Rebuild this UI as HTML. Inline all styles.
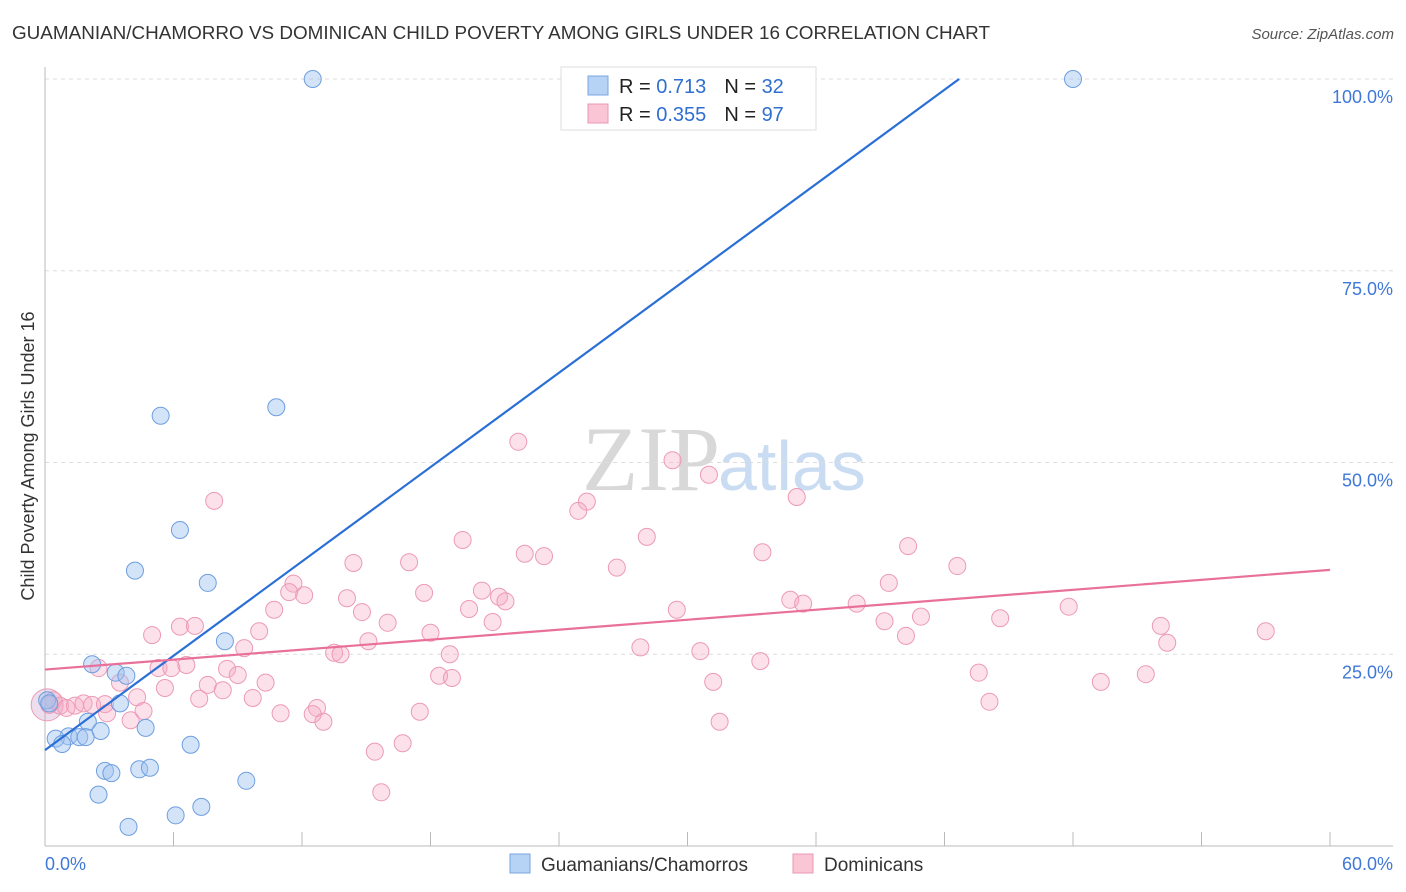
<!DOCTYPE html>
<html><head><meta charset="utf-8"><style>
body{margin:0;background:#fff;font-family:"Liberation Sans",sans-serif;}
svg{display:block}
</style></head><body>
<svg id="chart" width="1406" height="892" xmlns="http://www.w3.org/2000/svg">
<text x="12" y="39" font-size="18" fill="#333" textLength="978" lengthAdjust="spacingAndGlyphs">GUAMANIAN/CHAMORRO VS DOMINICAN CHILD POVERTY AMONG GIRLS UNDER 16 CORRELATION CHART</text>
<text x="1394" y="39" font-size="15" fill="#555" font-style="italic" text-anchor="end">Source: ZipAtlas.com</text>
<text x="720" y="490" font-size="92" fill="#d8d8d8" text-anchor="end" font-family="Liberation Serif,serif">ZIP</text>
<text x="718" y="490" font-size="70" fill="#c9dcf2">atlas</text>
<text transform="translate(34,456) rotate(-90)" font-size="18" fill="#333" text-anchor="middle">Child Poverty Among Girls Under 16</text>
<g id="grid"></g><g id="axes"></g><g id="pts"></g><g id="lines"></g>
<g>
<rect x="561" y="67" width="255" height="63" fill="#fff" stroke="#ddd"/>
<rect x="588" y="76" width="20" height="19" fill="#b6d2f5" stroke="#7aa6e0"/>
<rect x="588" y="104" width="20" height="19" fill="#fac6d6" stroke="#e897b3"/>
<text x="619" y="93" font-size="20" fill="#222">R = <tspan fill="#2f6fd0"> 0.713</tspan><tspan dx="18">N = </tspan><tspan fill="#2f6fd0">32</tspan></text>
<text x="619" y="121" font-size="20" fill="#222">R = <tspan fill="#2f6fd0">0.355</tspan><tspan dx="18">N = </tspan><tspan fill="#2f6fd0">97</tspan></text>
</g>
<g>
<rect x="510" y="854" width="20" height="19" fill="#b6d2f5" stroke="#7aa6e0"/>
<text x="541" y="871" font-size="19" fill="#333">Guamanians/Chamorros</text>
<rect x="793" y="854" width="20" height="19" fill="#fac6d6" stroke="#e897b3"/>
<text x="824" y="871" font-size="19" fill="#333">Dominicans</text>
</g>
</svg>
<script>
const blueX=[12.5,48.0,5.4,10.8,6.3,4.2,7.6,8.4,2.2,3.3,3.8,0.1,3.5,2.0,4.7,2.6,1.1,0.5,1.6,1.9,0.8,6.8,2.8,3.1,4.4,4.9,2.5,9.4,3.9,6.1,7.3,0.2];
const blueY=[100,100,56.1,57.2,41.2,35.9,34.3,26.7,23.7,22.6,22.2,19.0,18.6,16.2,15.4,15.0,14.3,14.0,14.2,14.2,13.3,13.2,9.8,9.5,10.0,10.2,6.7,8.5,2.5,4.0,5.1,18.6];
const pinkX=[22.1,29.3,31.0,7.9,25.3,24.9,35.1,19.5,28.1,22.4,23.3,14.4,17.0,33.5,40.3,42.6,26.7,39.4,11.6,11.4,12.1,17.7,20.4,21.2,21.5,14.1,14.8,19.8,29.5,34.8,35.4,37.9,10.7,40.9,44.6,47.8,5.0,6.3,7.0,10.0,16.0,18.0,20.9,39.2,40.2,52.1,52.4,57.0,15.1,9.3,27.8,13.5,13.8,18.9,30.6,5.3,5.9,6.6,8.5,9.0,10.3,18.4,19.0,33.4,43.6,51.4,49.3,31.2,2.5,3.5,5.6,7.6,8.3,0.4,0.7,1.0,1.4,1.8,2.2,2.8,4.3,7.2,9.7,2.9,4.6,4.0,11.0,12.7,12.5,13.0,17.5,44.1,15.4,16.7,31.5,15.7,0.2];
const pinkY=[52.7,50.3,48.4,45.0,44.9,43.7,45.5,39.9,40.3,38.1,37.8,36.9,37.0,38.3,39.1,36.5,36.3,34.3,34.2,33.1,32.7,33.0,33.3,32.5,31.9,32.3,30.5,30.9,30.8,32.1,31.6,31.6,30.8,29.9,29.7,31.2,27.5,28.6,28.7,28.0,29.1,27.8,29.2,29.3,27.4,28.7,26.5,28.0,26.7,25.8,25.9,25.2,25.0,25.0,25.4,23.2,23.2,23.6,23.1,22.3,21.3,22.2,21.9,24.1,22.6,22.4,21.4,21.4,23.2,21.3,20.6,21.0,20.3,19.0,18.3,18.0,18.3,18.6,18.4,18.5,19.4,19.2,19.3,17.3,17.6,16.4,17.3,18.0,17.2,16.2,17.5,18.8,12.3,13.4,16.2,7.0,18.4];
const bigX=[0.1];
const bigY=[18.4];
const blueLine=[12.5,2.05];
const pinkLine=[23.0,0.2167];
const yTicks=[25,50,75,100];
const yTickLabels=["25.0%","50.0%","75.0%","100.0%"];
const xTickVals=[0,6,12,18,24,30,36,42,48,54,60];
const xLabels=["0.0%","60.0%"];
const NS="http://www.w3.org/2000/svg";
const L=45,R=1330,T=79,B=846;
const sx=v=>L+(v/60)*(R-L);
const sy=v=>B-(v/100)*(B-T);
function mk(tag,attrs,parent){const e=document.createElementNS(NS,tag);for(const k in attrs)e.setAttribute(k,attrs[k]);document.getElementById(parent).appendChild(e);return e;}
yTicks.forEach((v,i)=>{
 const g=mk('line',{x1:45,x2:1393,y1:sy(v),y2:sy(v),stroke:'#ddd','stroke-dasharray':'4,4'},'grid');
 
 
 const t=mk('text',{x:1393,y:sy(v)+24,'font-size':18,fill:'#3f78d8','text-anchor':'end'},'axes');
 t.textContent=yTickLabels[i];
 
 
});
let a=mk('line',{x1:45,x2:45,y1:67,y2:846,stroke:'#bbb'},'axes');


a=mk('line',{x1:45,x2:1393,y1:846,y2:846,stroke:'#bbb'},'axes');


xTickVals.forEach(v=>{
 const t=mk('line',{x1:sx(v),x2:sx(v),y1:832,y2:846,stroke:'#bbb'},'axes');
 
 
});
[[0,xLabels[0],'start',45],[60,xLabels[1],'end',1393]].forEach(d=>{
 const t=mk('text',{x:d[3],y:870,'font-size':18,fill:'#3f78d8','text-anchor':d[2]},'axes');
 t.textContent=d[1];
 
 
});
bigX.forEach((x,i)=>{
 const c=mk('circle',{cx:sx(x),cy:sy(bigY[i]),r:16,fill:'rgba(200,160,200,0.35)',stroke:'#ec9ab6','stroke-width':1},'pts');
 
 
});
pinkX.forEach((x,i)=>{
 const c=mk('circle',{cx:sx(x),cy:sy(pinkY[i]),r:8.5,fill:'rgba(245,170,195,0.35)',stroke:'#ec9ab6','stroke-width':1},'pts');
 
 
});
blueX.forEach((x,i)=>{
 const c=mk('circle',{cx:sx(x),cy:sy(blueY[i]),r:8.5,fill:'rgba(160,195,240,0.45)',stroke:'#6e9ee0','stroke-width':1},'pts');
 
 
});
const bx2=(100-blueLine[0])/blueLine[1];
let ln=mk('line',{x1:sx(0),y1:sy(blueLine[0]),x2:sx(bx2),y2:sy(100),stroke:'#2a6fd6','stroke-width':2.2},'lines');


ln=mk('line',{x1:sx(0),y1:sy(pinkLine[0]),x2:sx(60),y2:sy(pinkLine[0]+pinkLine[1]*60),stroke:'#e8709a','stroke-width':2.2},'lines');


</script>
</body></html>
